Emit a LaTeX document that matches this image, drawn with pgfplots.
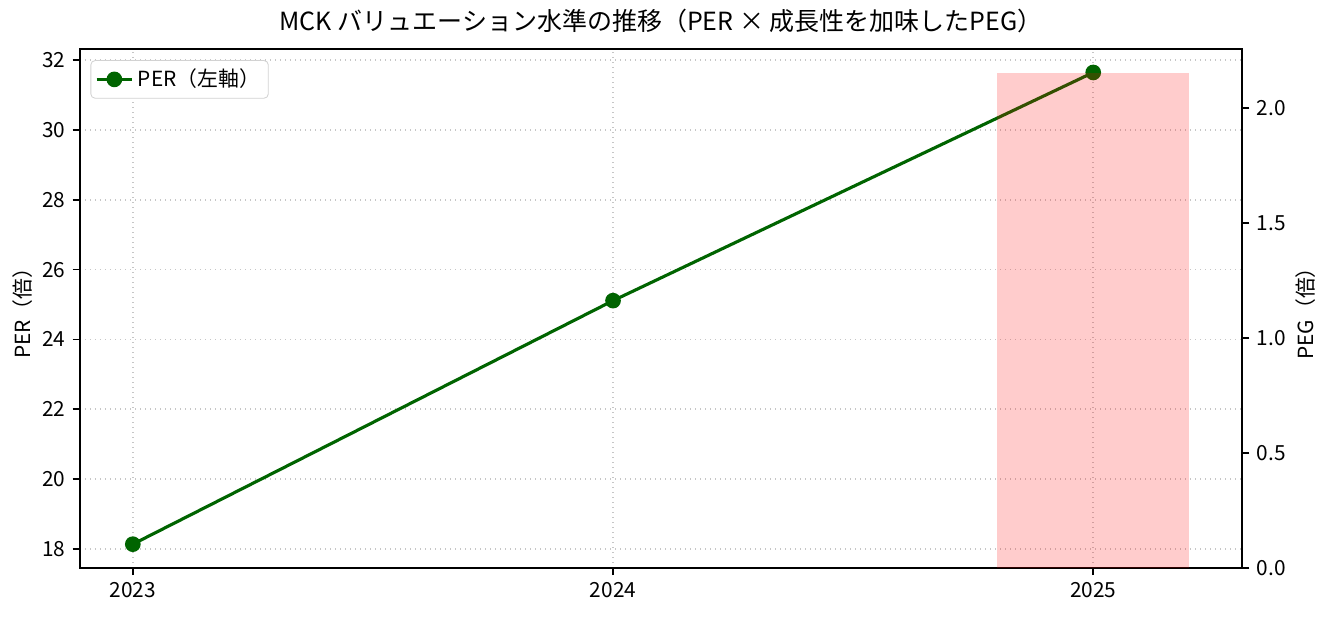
\documentclass[border=0pt]{standalone}
\usepackage{fontspec}
\setmainfont{Noto Sans CJK JP}
\usepackage{pgfplots}
\pgfplotsset{compat=1.18}
\definecolor{pergreen}{HTML}{006400}
\begin{document}
\begin{tikzpicture}
\pgfplotsset{
  base/.style={
    scale only axis,
    width=557.8pt, height=249.2pt,
    xmin=-0.11, xmax=2.31,
    tick align=outside,
    major tick length=3.5pt,
    tick style={black, line width=0.8pt},
    axis line style={line width=0.8pt},
    ticklabel style={font=\fontsize{10}{12}\selectfont},
    label style={font=\fontsize{10}{12}\selectfont},
    /pgf/number format/assume math mode=true,
  }
}
\path[use as bounding box] (-38.4pt,-23.2pt) rectangle (600pt,272.6pt);
\begin{axis}[base,
  ymin=17.45, ymax=32.33,
  xtick pos=bottom,
  ytick pos=left,
  xtick={0,1,2},
  xticklabels={2023,2024,2025},
  ytick={18,20,22,24,26,28,30,32},
  grid=major,
  major grid style={gray!45, dotted, line width=0.8pt},
  ylabel={PER（倍）},
  ylabel style={yshift=-2pt},
  title={MCK バリュエーション水準の推移（PER × 成長性を加味したPEG）},
  title style={font=\fontsize{12}{14}\selectfont, yshift=-2pt},
  legend style={at={(0.009,0.978)}, anchor=north west,
    draw=gray!35, rounded corners=2pt, font=\fontsize{10}{12}\selectfont,
    inner sep=2pt},
  legend cell align=left,
]
\addplot[pergreen, line width=1.5pt, mark=*, mark size=3pt,
  mark options={fill=pergreen, draw=none}] coordinates {
  (0,18.13) (1,25.11) (2,31.65)
};
\addlegendentry{PER（左軸）}
\end{axis}
\begin{axis}[base,
  ymin=0, ymax=2.2575,
  axis y line*=right,
  axis x line=none,
  ytick={0,0.5,1,1.5,2},
  yticklabel style={/pgf/number format/fixed, /pgf/number format/precision=1,
    /pgf/number format/fixed zerofill},
  ylabel={PEG（倍）},
  ylabel style={yshift=2pt},
]
\addplot[ybar, bar width=0.4, bar shift=0pt, fill=red, draw=none,
  fill opacity=0.2] coordinates {
  (2,2.15)
};
\end{axis}
\end{tikzpicture}
\end{document}
